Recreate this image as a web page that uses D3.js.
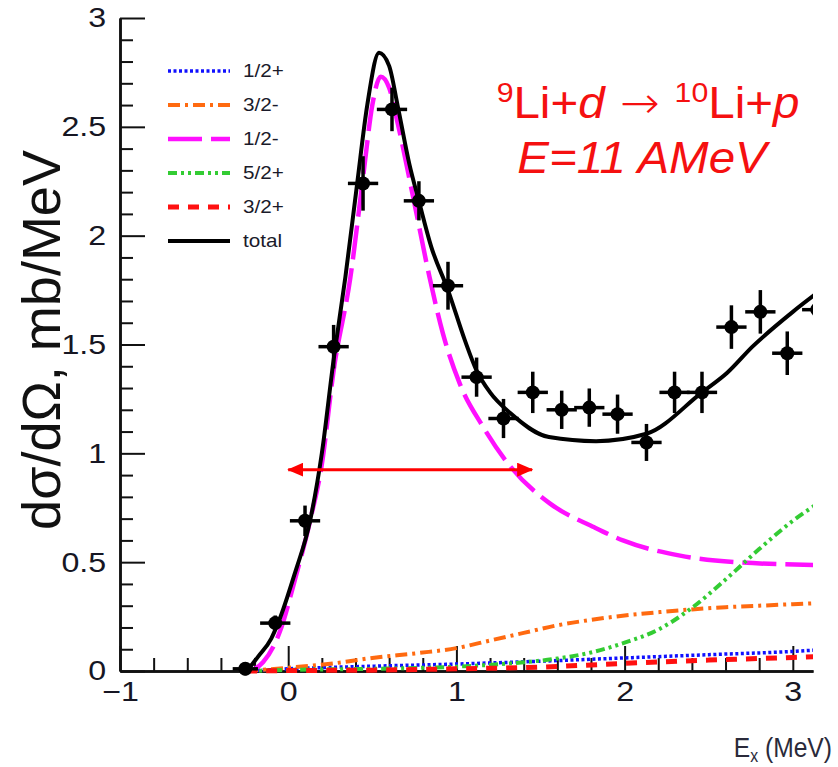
<!DOCTYPE html>
<html>
<head>
<meta charset="utf-8">
<script src="https://cdn.jsdelivr.net/npm/d3@7"></script>
<style>
  body { margin: 0; background: #fff; }
  svg { display: block; }
  text { font-family: "Liberation Sans", Arial, Helvetica, sans-serif; }
</style>
</head>
<body>
<div id="chart"></div>
<script>
// ---- data ----
const xTicksMajor = [-1, 0, 1, 2, 3];
const yTicksMajor = [0, 0.5, 1, 1.5, 2, 2.5, 3];

// measured points (E_x in MeV, cross section mb/MeV)
const dataX    = [-0.255, -0.077, 0.10, 0.27, 0.445, 0.617, 0.777, 0.95, 1.12, 1.28, 1.454, 1.626, 1.79, 1.958, 2.13, 2.297, 2.46, 2.635, 2.807, 2.967, 3.145];
const dataY    = [0.01, 0.22, 0.69, 1.49, 2.24, 2.58, 2.16, 1.77, 1.35, 1.16, 1.28, 1.20, 1.21, 1.18, 1.05, 1.28, 1.28, 1.58, 1.65, 1.46, 1.66];
const dataYErr = [0.03, 0.035, 0.07, 0.10, 0.125, 0.10, 0.09, 0.11, 0.09, 0.09, 0.095, 0.088, 0.088, 0.09, 0.085, 0.095, 0.095, 0.10, 0.10, 0.10, 0.10];
const dataXErr = [0.075, 0.09, 0.09, 0.09, 0.09, 0.09, 0.09, 0.09, 0.09, 0.09, 0.09, 0.09, 0.09, 0.09, 0.09, 0.09, 0.09, 0.09, 0.09, 0.09, 0.09];

// model components
const halfPlusX  = [-0.25, 0, 0.5, 1, 1.5, 2, 2.5, 3, 3.15];
const halfPlusY  = [0, 0.01, 0.022, 0.032, 0.045, 0.06, 0.075, 0.09, 0.097];

const threeHalfMinusX = [-0.25, 0, 0.25, 0.5, 0.78, 1.0, 1.2, 1.4, 1.6, 1.8, 2.0, 2.2, 2.4, 2.6, 2.8, 3.0, 3.15];
const threeHalfMinusY = [0, 0.015, 0.033, 0.06, 0.083, 0.105, 0.14, 0.175, 0.21, 0.235, 0.255, 0.27, 0.283, 0.293, 0.30, 0.307, 0.312];

const halfMinusX = [-0.22, -0.15, -0.05, 0.04, 0.13, 0.2, 0.27, 0.37, 0.45, 0.5, 0.55, 0.6, 0.65, 0.75, 0.84, 0.92, 1.02, 1.16, 1.32, 1.555, 1.82, 1.99, 2.33, 2.66, 3.15];
const halfMinusY = [0, 0.04, 0.18, 0.42, 0.69, 0.95, 1.38, 1.81, 2.3, 2.6, 2.73, 2.68, 2.52, 2.15, 1.81, 1.55, 1.32, 1.12, 0.94, 0.77, 0.66, 0.60, 0.53, 0.50, 0.487];

const fiveHalfPlusX = [-0.25, 0, 0.5, 1.0, 1.4, 1.6, 1.8, 2.0, 2.2, 2.4, 2.6, 2.8, 3.0, 3.15];
const fiveHalfPlusY = [0, 0.005, 0.01, 0.02, 0.04, 0.057, 0.085, 0.13, 0.19, 0.29, 0.42, 0.56, 0.69, 0.77];

const threeHalfPlusX = [-0.25, 0, 0.5, 1, 1.5, 2, 2.5, 3, 3.15];
const threeHalfPlusY = [0, 0.002, 0.004, 0.01, 0.018, 0.035, 0.05, 0.062, 0.066];

const totalX = [-0.245, -0.18, -0.1, -0.06, 0.04, 0.13, 0.2, 0.27, 0.34, 0.41, 0.47, 0.54, 0.6, 0.65, 0.72, 0.78, 0.85, 0.95, 1.05, 1.12, 1.2, 1.32, 1.55, 1.83, 2.13, 2.46, 2.61, 2.76, 3.0, 3.15];
const totalY = [0, 0.065, 0.15, 0.22, 0.45, 0.69, 1.0, 1.43, 1.81, 2.24, 2.6, 2.84, 2.78, 2.6, 2.33, 2.15, 1.95, 1.75, 1.52, 1.38, 1.28, 1.185, 1.075, 1.056, 1.09, 1.28, 1.37, 1.49, 1.65, 1.74];

// FWHM marker
const fwhmFrom = 0, fwhmTo = 1.45, fwhmLevel = 0.925;

const legendLabels = ['1/2+', '3/2-', '1/2-', '5/2+', '3/2+', 'total'];

// ---- drawing ----
const width = 838;
const height = 767;
const stretch = 1.15;   // the figure's text is a bit wide

const svg = d3.select('#chart')
              .append('svg')
              .attr('width', width)
              .attr('height', height);

const x = d3.scaleLinear().domain([-1, 3.12]).range([120, 813]);
const y = d3.scaleLinear().domain([0, 3]).range([671, 18]);

svg.append('clipPath').attr('id', 'plotClip')
   .append('rect')
   .attr('x', x(-1)).attr('y', 0)
   .attr('width', x(3.12) - x(-1)).attr('height', height);

const fmt = d3.format('~g');

// minor ticks
const xMinor = d3.range(-10, 32, 2).map(v => v / 10).filter(v => !xTicksMajor.includes(v) && v <= 3.12);
const yMinor = d3.range(0, 31, 1).map(v => v / 10).filter(v => !yTicksMajor.includes(v));

const xAxisMinor = svg.append('g')
   .attr('transform', `translate(0,${y(0)})`)
   .call(d3.axisBottom(x).tickValues(xMinor).tickSize(-13).tickSizeOuter(0).tickFormat(''));
const yAxisMinor = svg.append('g')
   .attr('transform', `translate(${x(-1)},0)`)
   .call(d3.axisLeft(y).tickValues(yMinor).tickSize(-13).tickSizeOuter(0).tickFormat(''));

const xAxis = svg.append('g')
   .attr('transform', `translate(0,${y(0)})`)
   .call(d3.axisBottom(x).tickValues(xTicksMajor).tickSize(-25).tickSizeOuter(0).tickPadding(10).tickFormat(fmt));
const yAxis = svg.append('g')
   .attr('transform', `translate(${x(-1)},0)`)
   .call(d3.axisLeft(y).tickValues(yTicksMajor).tickSize(-25).tickSizeOuter(0).tickPadding(12).tickFormat(fmt));

[xAxisMinor, yAxisMinor, xAxis, yAxis].forEach(g => {
    g.select('.domain').attr('stroke', '#111').attr('stroke-width', 2.5);
    g.selectAll('.tick line').attr('stroke', '#111').attr('stroke-width', 2);
});
[xAxis, yAxis].forEach(g => {
    g.selectAll('.tick text')
     .attr('font-size', 28)
     .attr('fill', '#161623')
     .attr('font-family', '"Liberation Sans", Arial, sans-serif')
     .attr('transform', `scale(${stretch},1)`);
});

// curves
const line = d3.line()
               .x(d => x(d[0]))
               .y(d => y(d[1]))
               .curve(d3.curveMonotoneX);

const series = [
    { xs: halfPlusX,       ys: halfPlusY,       color: '#1010ff', dash: '3,2.5',            w: 3.5 },
    { xs: threeHalfMinusX, ys: threeHalfMinusY, color: '#ff6a10', dash: '12,5,3,5',         w: 4 },
    { xs: halfMinusX,      ys: halfMinusY,      color: '#ff10ff', dash: '34,9',             w: 4.5 },
    { xs: fiveHalfPlusX,   ys: fiveHalfPlusY,   color: '#33cc33', dash: '9,4,3,4,3,4',      w: 4 },
    { xs: threeHalfPlusX,  ys: threeHalfPlusY,  color: '#ff1010', dash: '11,9',             w: 5 },
    { xs: totalX,          ys: totalY,          color: '#000',    dash: null,               w: 4 }
];

const curves = svg.append('g').attr('clip-path', 'url(#plotClip)');
series.forEach(s => {
    curves.append('path')
          .datum(s.xs.map((v, i) => [v, s.ys[i]]))
          .attr('d', line)
          .attr('fill', 'none')
          .attr('stroke', s.color)
          .attr('stroke-width', s.w)
          .attr('stroke-dasharray', s.dash);
});

// data points with error bars
const pts = curves.selectAll('g.pt')
                  .data(dataX.map((v, i) => ({ x: v, y: dataY[i], ex: dataXErr[i], ey: dataYErr[i] })))
                  .enter()
                  .append('g')
                  .attr('class', 'pt');
pts.append('line')
   .attr('x1', d => x(d.x - d.ex)).attr('x2', d => x(d.x + d.ex))
   .attr('y1', d => y(d.y)).attr('y2', d => y(d.y))
   .attr('stroke', '#000').attr('stroke-width', 3.5);
pts.append('line')
   .attr('x1', d => x(d.x)).attr('x2', d => x(d.x))
   .attr('y1', d => y(d.y - d.ey)).attr('y2', d => y(d.y + d.ey))
   .attr('stroke', '#000').attr('stroke-width', 3.5);
pts.append('circle')
   .attr('cx', d => x(d.x)).attr('cy', d => y(d.y))
   .attr('r', 7)
   .attr('fill', '#000');

// FWHM double arrow
const defs = svg.append('defs');
defs.append('marker')
    .attr('id', 'arrowHead')
    .attr('viewBox', '0 0 16 14')
    .attr('refX', 15).attr('refY', 7)
    .attr('markerWidth', 16).attr('markerHeight', 14)
    .attr('markerUnits', 'userSpaceOnUse')
    .attr('orient', 'auto-start-reverse')
    .append('path')
    .attr('d', 'M0,0 L16,7 L0,14 Z')
    .attr('fill', '#ff0000');

svg.append('line')
   .attr('x1', x(fwhmFrom)).attr('x2', x(fwhmTo))
   .attr('y1', y(fwhmLevel)).attr('y2', y(fwhmLevel))
   .attr('stroke', '#ff0000')
   .attr('stroke-width', 3)
   .attr('marker-start', 'url(#arrowHead)')
   .attr('marker-end', 'url(#arrowHead)');

// legend
const legend = svg.append('g');
const legendY0 = 71, legendStep = 34;
series.forEach((s, i) => {
    const ly = legendY0 + i * legendStep;
    legend.append('line')
          .attr('x1', 168).attr('x2', 230)
          .attr('y1', ly).attr('y2', ly)
          .attr('stroke', s.color)
          .attr('stroke-width', s.w)
          .attr('stroke-dasharray', s.dash);
    legend.append('text')
          .attr('transform', `translate(243,${ly}) scale(${stretch},1)`)
          .attr('dy', '0.35em')
          .attr('font-size', 18)
          .attr('fill', '#1a1a2a')
          .text(legendLabels[i]);
});

// reaction title
const title = svg.append('text')
                 .attr('transform', `translate(648,118) scale(1.08,1)`)
                 .attr('text-anchor', 'middle')
                 .attr('font-size', 44)
                 .attr('fill', '#f51010');
title.append('tspan').attr('font-size', 28).attr('dy', -16).text('9');
title.append('tspan').attr('dy', 16).text('Li+');
title.append('tspan').attr('font-style', 'italic').text('d');
title.append('tspan').attr('font-family', '"DejaVu Sans", sans-serif').attr('font-weight', 200).text(' \u2192 ');
title.append('tspan').attr('font-size', 28).attr('dy', -16).text('10');
title.append('tspan').attr('dy', 16).text('Li+');
title.append('tspan').attr('font-style', 'italic').text('p');

svg.append('text')
   .attr('transform', `translate(642,173) scale(1.08,1)`)
   .attr('text-anchor', 'middle')
   .attr('font-size', 44)
   .attr('font-style', 'italic')
   .attr('fill', '#f51010')
   .text('E=11 AMeV');

// axis titles
svg.append('text')
   .attr('transform', `translate(60,340) rotate(-90)`)
   .attr('text-anchor', 'middle')
   .attr('font-size', 54)
   .attr('fill', '#111')
   .text('d\u03c3/d\u03a9, mb/MeV');

const xTitle = svg.append('text')
   .attr('transform', `translate(832,757) scale(0.88,1)`)
   .attr('text-anchor', 'end')
   .attr('font-size', 28)
   .attr('fill', '#2a2a3a');
xTitle.append('tspan').text('E');
xTitle.append('tspan').attr('font-size', 18).attr('dy', 5).text('x');
xTitle.append('tspan').attr('dy', -5).text(' (MeV)');
</script>
</body>
</html>
